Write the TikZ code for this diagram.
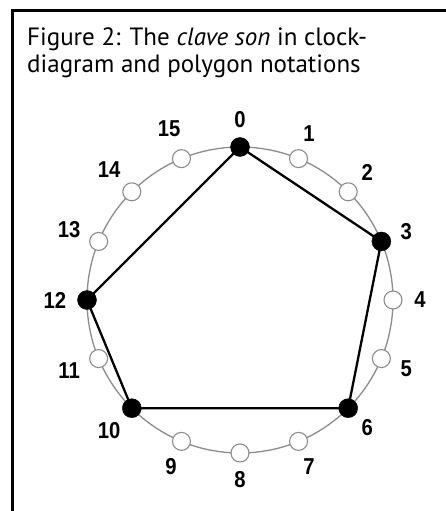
\documentclass[tikz,border=0pt]{standalone}
\usepackage{fontspec}
\setmainfont{Liberation Sans}
\newfontfamily\titlefont{PT Sans}
\newcommand{\narrownum}[1]{\scalebox{0.88}[1]{#1}}
\begin{document}
\begin{tikzpicture}[x=1pt,y=-1pt,
  frameline/.style={line width=2.4pt,black},
  titletext/.style={anchor=base west,inner sep=0pt,font=\titlefont\fontsize{25}{28}\selectfont},
  ring/.style={draw=gray!90,line width=1.3pt},
  onset/.style={circle,fill=black,draw=black,minimum size=19pt,inner sep=0pt},
  rest/.style={circle,fill=white,draw=gray!90,line width=1.1pt,minimum size=18pt,inner sep=0pt},
  num/.style={inner sep=0pt,font=\fontsize{23}{24}\selectfont\bfseries},
  poly/.style={line width=2.3pt,black,line join=round}]
\useasboundingbox (0,0) rectangle (446,511);
\fill[white] (0,0) rectangle (446,511);
% frame (left and top)
\coordinate (fbl) at (12.5,511);
\coordinate (ftl) at (12.5,10.5);
\coordinate (ftr) at (446,10.5);
\draw[frameline] (fbl) -- (ftl) -- (ftr);
% title
\node[titletext] (t1) at (27,46) {Figure 2: The \textit{clave son} in clock-};
\node[titletext] (t2) at (27,73) {diagram and polygon notations};
% ring
\coordinate (c) at (240,300);
\draw[ring] (c) circle[radius=153];
% points
\foreach \k in {0,...,15}{
  \coordinate (q\k) at ({240+153*sin(22.5*\k)},{300-153*cos(22.5*\k)});
}
\foreach \k in {1,2,4,5,7,8,9,11,13,14,15}{
  \node[rest] (p\k) at (q\k) {};
}
\draw[poly] (q0) -- (q3) -- (q6) -- (q10) -- (q12) -- cycle;
\foreach \k in {0,3,6,10,12}{
  \node[onset] (p\k) at (q\k) {};
}
% labels
\foreach \k in {0,...,9}{
  \node[num] (l\k) at ({240+180*sin(22.5*\k)},{300-180*cos(22.5*\k)}) {\narrownum{\k}};
}
\foreach \k in {10,...,15}{
  \node[num] (l\k) at ({240+185*sin(22.5*\k)},{300-185*cos(22.5*\k)}) {\narrownum{\k}};
}
\end{tikzpicture}
\end{document}
